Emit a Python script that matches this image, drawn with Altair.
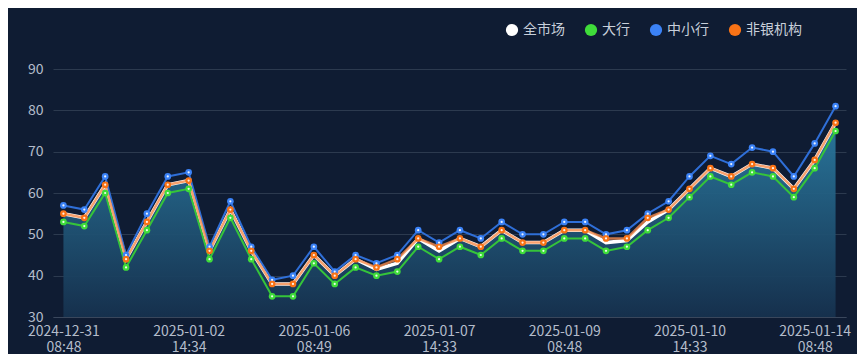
import altair as alt
import pandas as pd

series_names = ["全市场", "大行", "中小行", "非银机构"]
series_colors = ["#ffffff", "#3fdc3a", "#3b82f6", "#f97316"]

whole_market = [55, 54, 62, 44, 53, 62, 63, 46, 56, 46, 38, 38, 45, 40, 44, 41.5, 43, 49, 46, 49,
                47, 51, 48, 48, 51, 51, 48, 48.5, 53, 56, 61, 66, 64, 67, 66, 61, 68, 77]
big_banks = [53, 52, 60, 42, 51, 60, 61, 44, 54, 44, 35, 35, 43, 38, 42, 40, 41, 47, 44, 47,
             45, 49, 46, 46, 49, 49, 46, 47, 51, 54, 59, 64, 62, 65, 64, 59, 66, 75]
small_banks = [57, 56, 64, 45, 55, 64, 65, 47, 58, 47, 39, 40, 47, 41, 45, 43, 45, 51, 48, 51,
               49, 53, 50, 50, 53, 53, 50, 51, 55, 58, 64, 69, 67, 71, 70, 64, 72, 81]
non_banks = [55, 54, 62, 44, 53, 62, 63, 46, 56, 46, 38, 38, 45, 40, 44, 42, 44, 49, 47, 49,
             47, 51, 48, 48, 51, 51, 49, 49, 54, 56, 61, 66, 64, 67, 66, 61, 68, 77]

tick_index = [0, 6, 12, 18, 24, 30, 36]
tick_dates = ["2024-12-31", "2025-01-02", "2025-01-06", "2025-01-07", "2025-01-09", "2025-01-10", "2025-01-14"]
tick_times = ["08:48", "14:34", "08:49", "14:33", "08:48", "14:33", "08:48"]

all_series = [whole_market, big_banks, small_banks, non_banks]
rows = []
for name, vals in zip(series_names, all_series):
    for i, v in enumerate(vals):
        rows.append({"i": i, "series": name, "value": v})
df = pd.DataFrame(rows)

label_arr = "[" + ",".join("['%s','%s']" % (d, t) for d, t in zip(tick_dates, tick_times)) + "]"
label_expr = label_arr + "[indexof(" + str(tick_index) + ", datum.value)]"

x_enc = alt.X("i:O", scale=alt.Scale(type="point", padding=0.5),
              axis=alt.Axis(values=tick_index, labelExpr=label_expr, title=None, grid=False,
                            ticks=False, labelAngle=0, labelLineHeight=16, labelPadding=7,
                            domain=True, domainColor="#3a475c", labelColor="#b4bccb",
                            labelFontSize=14, labelFont="Noto Sans CJK SC"))
y_scale = alt.Scale(domain=[30, 90], nice=False, zero=False)
y_enc = alt.Y("value:Q", scale=y_scale,
              axis=alt.Axis(values=[30, 40, 50, 60, 70, 80, 90], title=None, ticks=False,
                            domain=False, grid=True, gridColor="#2c3a4f", gridWidth=1.2,
                            labelColor="#b4bccb", labelFontSize=14, labelPadding=10,
                            labelFont="Noto Sans CJK SC"))

base = alt.Chart(df)

area = base.transform_filter(alt.datum.series == "全市场").mark_area(
    color=alt.Gradient(gradient="linear",
                       stops=[alt.GradientStop(color="#2a7aa0", offset=0),
                              alt.GradientStop(color="#16314e", offset=1)],
                       x1=0, x2=0, y1=0, y2=1),
    opacity=0.95
).encode(x=x_enc, y=y_enc, y2=alt.datum(30))

def line(name, color, width, opacity=1.0):
    return base.transform_filter(alt.datum.series == name).mark_line(
        color=color, strokeWidth=width, opacity=opacity
    ).encode(x=x_enc, y=y_enc)

lines = [
    line("全市场", "#ffffff", 3.5),
    line("大行", "#35c43a", 2),
    line("中小行", "#2f6fd8", 2),
    line("非银机构", "#f58a4a", 2.5, 0.8),
]

pts = base.transform_filter(alt.datum.series != "全市场").mark_circle(size=45, opacity=1).encode(
    x=x_enc, y=y_enc,
    color=alt.Color("series:N", scale=alt.Scale(domain=series_names, range=series_colors),
                    legend=alt.Legend(title=None, orient="none", legendX=452, legendY=-46,
                                      direction="horizontal", columns=4, symbolType="circle",
                                      symbolSize=150, labelColor="#c8cfda", labelFontSize=14,
                                      labelFont="Noto Sans CJK SC", columnPadding=19,
                                      labelOffset=4, symbolStrokeWidth=0)),
    order=alt.Order("series:N")
)
white_pts = base.transform_filter(alt.datum.series != "全市场").mark_circle(
    size=5, color="#ffffff", opacity=0.9).encode(x=x_enc, y=y_enc, detail="series:N")

chart = alt.layer(area, *lines, pts, white_pts).properties(
    width=793, height=248,
    autosize=alt.AutoSizeParams(type="none"),
    padding={"left": 45, "top": 61, "right": 11, "bottom": 37},
    background="#0f1c33"
).configure_view(stroke=None)

chart.save("out.html", embed_options={"renderer": "svg", "actions": False})
